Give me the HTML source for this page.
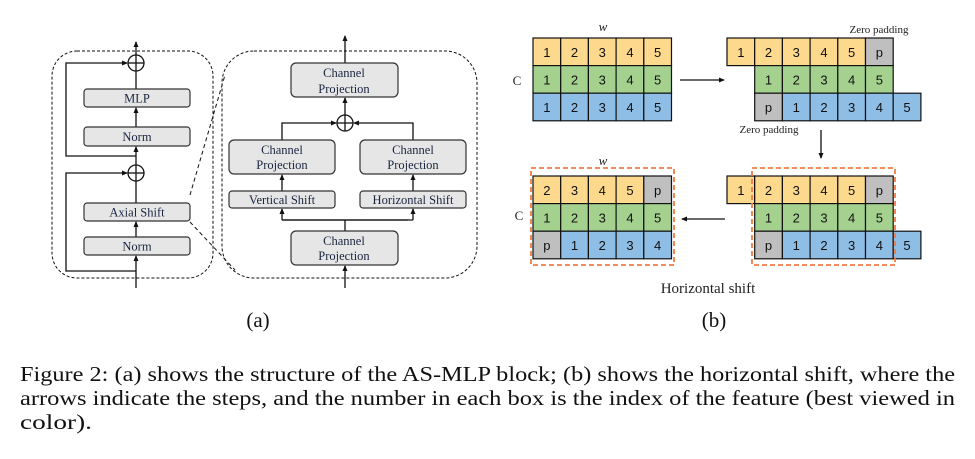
<!DOCTYPE html>
<html><head><meta charset="utf-8"><style>
html,body{margin:0;padding:0;background:#fff;}
svg{display:block;}
.bx{fill:#e6e6e6;stroke:#333;stroke-width:1.2;}
.t{font-family:"Liberation Serif",serif;font-size:12.5px;fill:#1a2540;text-anchor:middle;}
.n{font-family:"Liberation Sans",sans-serif;font-size:13px;fill:#111;text-anchor:middle;}
.cap{font-family:"Liberation Serif",serif;font-size:21px;fill:#111;}
</style></head><body>
<svg id="s" width="975" height="459" viewBox="0 0 975 459" xmlns="http://www.w3.org/2000/svg">
<defs><marker id="ar" markerWidth="6" markerHeight="6" refX="5" refY="3" orient="auto" markerUnits="userSpaceOnUse"><path d="M0,0.5 L6,3 L0,5.5 Z" fill="#111"/></marker></defs>
<g stroke="#111" fill="none" stroke-width="1.3">
<!-- (a) left block -->
<rect x="52" y="51" width="161" height="227" rx="25" stroke-dasharray="3,2" stroke-width="1"/>
<rect x="222" y="51" width="255" height="227" rx="32" stroke-dasharray="3,2" stroke-width="1"/>
<line x1="190" y1="195" x2="225" y2="75" stroke-dasharray="4,3" stroke-width="1"/>
<line x1="190" y1="222" x2="235" y2="270" stroke-dasharray="4,3" stroke-width="1"/>
<line x1="136" y1="288" x2="136" y2="256" marker-end="url(#ar)"/>
<line x1="136" y1="237" x2="136" y2="222" marker-end="url(#ar)"/>
<line x1="136" y1="203" x2="136" y2="181"/>
<line x1="136" y1="165" x2="136" y2="147" marker-end="url(#ar)"/>
<line x1="136" y1="127" x2="136" y2="108" marker-end="url(#ar)"/>
<line x1="136" y1="89" x2="136" y2="71"/>
<line x1="136" y1="55" x2="136" y2="42" marker-end="url(#ar)"/>
<circle cx="136" cy="63" r="8"/><line x1="128" y1="63" x2="144" y2="63"/><line x1="136" y1="55" x2="136" y2="71"/>
<circle cx="136" cy="173" r="8"/><line x1="128" y1="173" x2="144" y2="173"/><line x1="136" y1="165" x2="136" y2="181"/>
<polyline points="136,156 66,156 66,63 127,63" marker-end="url(#ar)"/>
<polyline points="136,271 66,271 66,173 127,173" marker-end="url(#ar)"/>
<!-- right block -->
<line x1="345" y1="288" x2="345" y2="266" marker-end="url(#ar)"/>
<line x1="345" y1="231" x2="345" y2="220"/>
<polyline points="282,220 408,220"/>
<line x1="282" y1="220" x2="282" y2="209" marker-end="url(#ar)"/>
<line x1="413" y1="220" x2="413" y2="209" marker-end="url(#ar)"/>
<polyline points="282,220 413,220"/>
<line x1="282" y1="191" x2="282" y2="175" marker-end="url(#ar)"/>
<line x1="413" y1="191" x2="413" y2="175" marker-end="url(#ar)"/>
<polyline points="282,140 282,123 336,123" marker-end="url(#ar)"/>
<polyline points="413,140 413,123 354,123" marker-end="url(#ar)"/>
<circle cx="345" cy="123" r="8"/><line x1="337" y1="123" x2="353" y2="123"/><line x1="345" y1="115" x2="345" y2="131"/>
<line x1="345" y1="115" x2="345" y2="98" marker-end="url(#ar)"/>
<line x1="345" y1="63" x2="345" y2="36" marker-end="url(#ar)"/>
</g>
<rect class="bx" x="84" y="89" width="106" height="18" rx="3"/><text class="t" x="137" y="102.5">MLP</text>
<rect class="bx" x="84" y="127" width="106" height="19" rx="3"/><text class="t" x="137" y="141">Norm</text>
<rect class="bx" x="84" y="203" width="106" height="18" rx="3"/><text class="t" x="137" y="216.5">Axial Shift</text>
<rect class="bx" x="84" y="237" width="106" height="18" rx="3"/><text class="t" x="137" y="250.5">Norm</text>
<rect class="bx" x="291" y="63" width="107" height="34" rx="5"/><text class="t" x="344" y="77">Channel</text><text class="t" x="344" y="93">Projection</text>
<rect class="bx" x="229" y="140" width="106" height="34" rx="5"/><text class="t" x="282" y="154">Channel</text><text class="t" x="282" y="169">Projection</text>
<rect class="bx" x="360" y="140" width="106" height="34" rx="5"/><text class="t" x="413" y="154">Channel</text><text class="t" x="413" y="169">Projection</text>
<rect class="bx" x="229" y="191" width="106" height="17" rx="3"/><text class="t" x="282" y="204">Vertical Shift</text>
<rect class="bx" x="360" y="191" width="106" height="17" rx="3"/><text class="t" x="413" y="204">Horizontal Shift</text>
<rect class="bx" x="291" y="231" width="107" height="34" rx="5"/><text class="t" x="344" y="245">Channel</text><text class="t" x="344" y="260">Projection</text>
<text class="cap" x="258" y="327" text-anchor="middle" font-size="18">(a)</text>
<text class="cap" x="714" y="327" text-anchor="middle" font-size="18">(b)</text>
<!-- (b) -->
<g id="cells"></g>
<g font-family="Liberation Serif,serif" fill="#222">
<text x="603" y="31" font-style="italic" font-size="13" text-anchor="middle">w</text>
<text x="603" y="165" font-style="italic" font-size="13" text-anchor="middle">w</text>
<text x="517" y="85" font-size="13" text-anchor="middle">C</text>
<text x="519" y="220" font-size="13" text-anchor="middle">C</text>
<text x="879" y="33" font-size="11" text-anchor="middle">Zero padding</text>
<text x="769" y="133" font-size="11" text-anchor="middle">Zero padding</text>
<text x="708" y="293" font-size="15" text-anchor="middle">Horizontal shift</text>
</g>
<g stroke="#111" stroke-width="1.3">
<line x1="680" y1="80" x2="724" y2="80" marker-end="url(#ar)"/>
<line x1="821" y1="130" x2="821" y2="158" marker-end="url(#ar)"/>
<line x1="725" y1="219" x2="682" y2="219" marker-end="url(#ar)"/>
</g>
<g fill="none" stroke="#f07c45" stroke-width="1.8" stroke-dasharray="5,3">
<rect x="531" y="168" width="143" height="97"/>
<rect x="752" y="168" width="143" height="97"/>
</g>
<text class="cap"><tspan x="20" y="381" textLength="935" lengthAdjust="spacingAndGlyphs">Figure 2: (a) shows the structure of the AS-MLP block; (b) shows the horizontal shift, where the</tspan><tspan x="20" y="405" textLength="935" lengthAdjust="spacingAndGlyphs">arrows indicate the steps, and the number in each box is the index of the feature (best viewed in</tspan><tspan x="20" y="429" textLength="72" lengthAdjust="spacingAndGlyphs">color).</tspan></text>
</svg>
<script>
var C={y:"#fdd98e",g:"#a5d18f",b:"#8ebde6",p:"#bfbfc0"};
var w=27.7,h=27.6,out="";
function row(x0,y,vals,col){vals.forEach(function(v,i){var x=x0+i*w,c=v=="p"?C.p:C[col];
out+='<rect x="'+x+'" y="'+y+'" width="'+w+'" height="'+h+'" fill="'+c+'" stroke="#111" stroke-width="1.2"/>';
out+='<text class="n" x="'+(x+w/2)+'" y="'+(y+h/2+5)+'">'+v+'</text>';});}
row(533,38,["1","2","3","4","5"],"y");row(533,65.6,["1","2","3","4","5"],"g");row(533,93.2,["1","2","3","4","5"],"b");
[38,176].forEach(function(y0){row(727,y0,["1","2","3","4","5","p"],"y");row(754.7,y0+27.6,["1","2","3","4","5"],"g");row(754.7,y0+55.2,["p","1","2","3","4","5"],"b");});
row(533,176,["2","3","4","5","p"],"y");row(533,203.6,["1","2","3","4","5"],"g");row(533,231.2,["p","1","2","3","4"],"b");
document.getElementById("cells").innerHTML=out;
</script>
</body></html>
